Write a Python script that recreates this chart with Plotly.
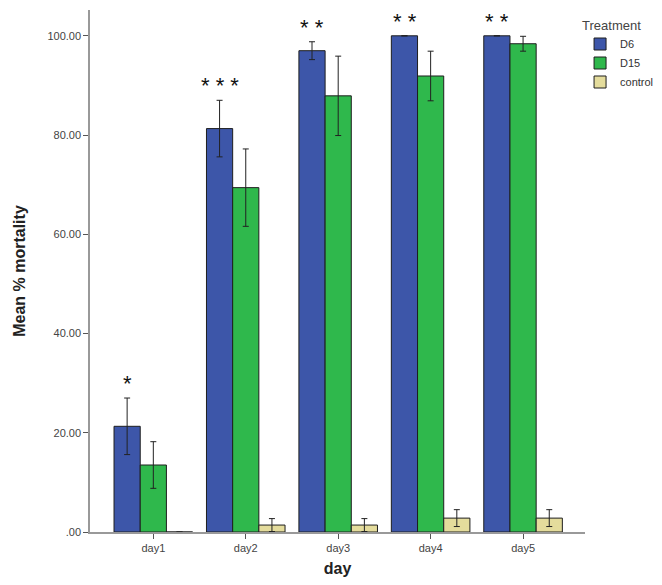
import plotly.graph_objects as go

days = ["day1", "day2", "day3", "day4", "day5"]
d6_mean = [21.3, 81.3, 97.0, 100.0, 100.0]
d6_err = [5.7, 5.7, 1.8, 0.0, 0.0]
d15_mean = [13.5, 69.4, 87.9, 91.9, 98.4]
d15_err = [4.7, 7.8, 8.0, 5.0, 1.5]
ctrl_mean = [0.0, 1.4, 1.4, 2.8, 2.8]
ctrl_err = [0.0, 1.3, 1.3, 1.7, 1.7]
stars = ["*", "* * *", "* *", "* *", "* *"]
ytick_vals = [0, 20, 40, 60, 80, 100]
ytick_text = [".00", "20.00", "40.00", "60.00", "80.00", "100.00"]

FONT = "Liberation Sans, Arial, sans-serif"
outline = dict(color="#1e1e1e", width=1)
errstyle = lambda e: dict(type="data", array=e, visible=True, color="#222222", thickness=1, width=3)

fig = go.Figure()
fig.add_trace(go.Bar(name="D6", x=days, y=d6_mean, error_y=errstyle(d6_err),
                     marker=dict(color="#3d56a9", line=outline)))
fig.add_trace(go.Bar(name="D15", x=days, y=d15_mean, error_y=errstyle(d15_err),
                     marker=dict(color="#2fb84c", line=outline)))
fig.add_trace(go.Bar(name="control", x=days, y=ctrl_mean, error_y=errstyle(ctrl_err),
                     marker=dict(color="#e4dc9c", line=outline)))

# significance stars above the D6 bars
for i, d in enumerate(days):
    fig.add_annotation(x=d, y=d6_mean[i] + d6_err[i], text=stars[i], showarrow=False,
                       xref="x", yref="y", xshift=-26, yshift=1, yanchor="bottom",
                       borderpad=0,
                       font=dict(family=FONT, size=22, color="#111111"))

fig.update_layout(
    width=662, height=585,
    margin=dict(l=82, r=85, t=2, b=61),
    paper_bgcolor="white", plot_bgcolor="white",
    barmode="group", bargap=0.15, bargroupgap=0,
    font=dict(family=FONT, color="#444444"),
    legend=dict(title=dict(text="Treatment", font=dict(size=13, color="#444444")),
                x=0.99, xanchor="left", y=0.995, yanchor="top",
                font=dict(size=11, color="#333333"), tracegroupgap=0,
                itemwidth=30, borderwidth=0),
    xaxis=dict(range=[-0.685, 4.67], showline=True, linecolor="#999999", linewidth=1.5,
               ticks="outside", ticklen=5, tickcolor="#555555",
               tickfont=dict(size=11, color="#444444"),
               title=dict(text="<b>day</b>", font=dict(size=16, color="#222222"), standoff=10),
               showgrid=False, zeroline=False),
    yaxis=dict(range=[0, 105.2], showline=True, linecolor="#999999", linewidth=1.5,
               ticks="outside", ticklen=5, tickcolor="#555555",
               tickvals=ytick_vals, ticktext=ytick_text,
               tickfont=dict(size=11, color="#444444"),
               title=dict(text="<b>Mean % mortality</b>", font=dict(size=16, color="#222222"), standoff=18),
               showgrid=False, zeroline=False),
)

fig.write_html("out.html")
